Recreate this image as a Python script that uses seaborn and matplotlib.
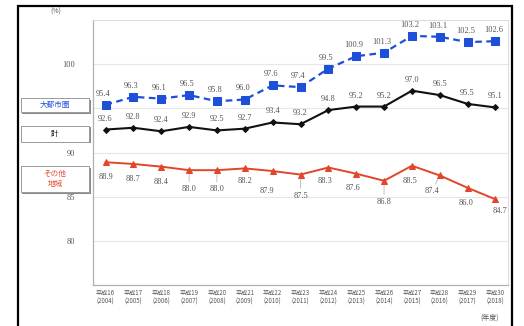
import matplotlib
matplotlib.use("Agg")
import matplotlib.pyplot as plt
import seaborn as sns
import pandas as pd
from matplotlib.patches import Rectangle

# 年度ラベル
era_labels = ["平成16", "平成17", "平成18", "平成19", "平成20", "平成21", "平成22", "平成23",
              "平成24", "平成25", "平成26", "平成27", "平成28", "平成29", "平成30"]
year_labels = ["2004", "2005", "2006", "2007", "2008", "2009", "2010", "2011",
               "2012", "2013", "2014", "2015", "2016", "2017", "2018"]

# 系列 (%)
metro = [95.4, 96.3, 96.1, 96.5, 95.8, 96.0, 97.6, 97.4, 99.5, 100.9, 101.3, 103.2, 103.1, 102.5, 102.6]
total = [92.6, 92.8, 92.4, 92.9, 92.5, 92.7, 93.4, 93.2, 94.8, 95.2, 95.2, 97.0, 96.5, 95.5, 95.1]
other = [88.9, 88.7, 88.4, 88.0, 88.0, 88.2, 87.9, 87.5, 88.3, 87.6, 86.8, 88.5, 87.4, 86.0, 84.7]

series_names = ["大都市圏", "計", "その他地域"]

sns.set_style("white")
plt.rcParams["font.family"] = ["Noto Sans CJK JP", "DejaVu Sans"]

BLUE = "#1e4fd8"
BLACK = "#111111"
RED = "#e2452a"
LABEL = "#555555"

fig = plt.figure(figsize=(5.24, 3.26), dpi=100)
ax = fig.add_axes([93 / 524, 1 - 285 / 326, (508 - 93) / 524, (285 - 20) / 326])

df = pd.DataFrame({"x": list(range(len(metro))) * 3,
                   "v": metro + total + other,
                   "s": [series_names[0]] * len(metro) + [series_names[1]] * len(total)
                        + [series_names[2]] * len(other)})

sns.lineplot(data=df[df.s == "大都市圏"], x="x", y="v", ax=ax, color=BLUE, lw=1.6,
             linestyle=(0, (3, 2)), marker="s", markersize=5.5, markeredgecolor=BLUE,
             errorbar=None, legend=False)
sns.lineplot(data=df[df.s == "計"], x="x", y="v", ax=ax, color=BLACK, lw=1.5,
             marker="D", markersize=3, markeredgecolor=BLACK, errorbar=None, legend=False)
sns.lineplot(data=df[df.s == "その他地域"], x="x", y="v", ax=ax, color=RED, lw=1.4,
             marker="^", markersize=4.5, markeredgecolor=RED, errorbar=None, legend=False)

num_font = dict(family=["Liberation Serif"], fontsize=6, color=LABEL)

for i, v in enumerate(metro):
    ax.annotate(f"{v:.1f}", (i, v), xytext=(-2, 7), textcoords="offset pixels",
                ha="center", va="bottom", **num_font)
for i, v in enumerate(total):
    ax.annotate(f"{v:.1f}", (i, v), xytext=(0, 7), textcoords="offset pixels",
                ha="center", va="bottom", **num_font)

# その他地域のラベルは点の下に配置（一部は引き出し線付き）
red_dy = [-11, -11, -11, -15, -15, -9, -16, -17, -9, -10, -17, -11, -12, -11, -8]
red_dx = [0, 0, 0, 0, 0, 0, -6, 0, -3, -3, 0, -2, -8, -2, 5]
leaders = {3, 4, 7, 10, 12}
for i, v in enumerate(other):
    kw = {}
    if i in leaders:
        kw["arrowprops"] = dict(arrowstyle="-", color="#aaaaaa", lw=0.5,
                                shrinkA=0, shrinkB=3)
    ax.annotate(f"{v:.1f}", (i, v), xytext=(red_dx[i], red_dy[i]),
                textcoords="offset pixels", ha="center", va="top", **num_font, **kw)

ax.set_xlim(-0.45, len(metro) - 1 + 0.45)
ax.set_ylim(75, 105)
ax.set_yticks([80, 85, 90, 95, 100])
ax.set_yticklabels(["80", "85", "90", "", "100"], family=["Liberation Serif"],
                   fontsize=6, color=LABEL)
ax.set_xticks(range(len(era_labels)))
ax.set_xticklabels([f"{e}\n({y})" for e, y in zip(era_labels, year_labels)],
                   fontsize=4.4, color=LABEL, linespacing=1.1)
ax.tick_params(axis="y", length=0, pad=13)
ax.tick_params(axis="x", length=0, pad=3)
ax.set_xlabel("")
ax.set_ylabel("")
ax.grid(axis="y", color="#e6e6e6", lw=0.8)
for side in ["left", "bottom"]:
    ax.spines[side].set_color("#b0b0b0")
    ax.spines[side].set_linewidth(0.9)
for side in ["top", "right"]:
    ax.spines[side].set_color("#dcdcdc")
    ax.spines[side].set_linewidth(0.8)

fig.text(56 / 524, 1 - 12 / 326, "(%)", fontsize=5, color=LABEL, ha="center", va="center")
fig.text(490 / 524, 1 - 318 / 326, "(年度)", fontsize=5, color=LABEL, ha="center", va="center")

# 左側の系列名ボックス
def name_box(x0, y0, x1, y1, text, color):
    w, h = (x1 - x0) / 524, (y1 - y0) / 326
    fig.patches.append(Rectangle((x0 / 524 + 1.5 / 524, 1 - y1 / 326 - 1.5 / 326), w, h,
                                 transform=fig.transFigure, facecolor="#8a8a8a",
                                 edgecolor="none", zorder=1))
    fig.patches.append(Rectangle((x0 / 524, 1 - y1 / 326), w, h, transform=fig.transFigure,
                                 facecolor="white", edgecolor="#9a9a9a", lw=0.7, zorder=2))
    fig.text((x0 + x1) / 2 / 524, 1 - (y0 + y1) / 2 / 326, text, color=color,
             fontsize=5.5, ha="center", va="center", linespacing=1.2, zorder=3)

name_box(21, 98, 89, 112, "大都市圏", BLUE)
name_box(21, 126, 89, 142, "計", BLACK)
name_box(21, 166, 89, 192, "その他\n地域", RED)

# 外枠
fig.patches.append(Rectangle((18 / 524, -0.1), (512 - 18) / 524, 1.1 - 6 / 326,
                             transform=fig.transFigure, facecolor="none",
                             edgecolor="black", lw=1.6, zorder=5))

fig.savefig("out.png", dpi=100)
